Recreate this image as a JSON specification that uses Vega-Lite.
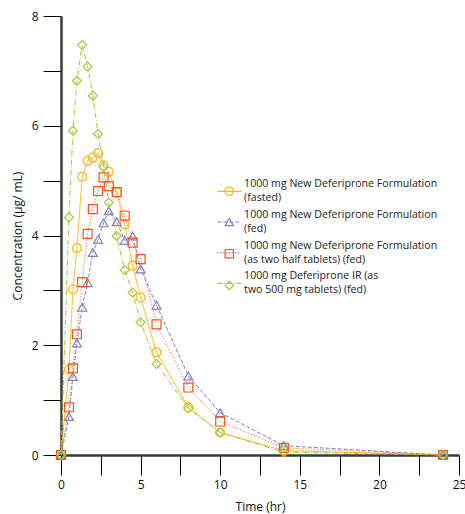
{
  "$schema": "https://vega.github.io/schema/vega-lite/v6.json",
  "autosize": "none",
  "width": 398,
  "height": 439,
  "padding": {"left": 61, "top": 16, "right": 6, "bottom": 59},
  "background": "white",
  "config": {"view": {"stroke": null}, "font": "Open Sans"},
  "data": {
    "values": [
      {"series": "1000 mg New Deferiprone Formulation (fasted)", "time": 0, "conc": 0},
      {"series": "1000 mg New Deferiprone Formulation (fasted)", "time": 0.5, "conc": 1.56},
      {"series": "1000 mg New Deferiprone Formulation (fasted)", "time": 0.75, "conc": 3.02},
      {"series": "1000 mg New Deferiprone Formulation (fasted)", "time": 1, "conc": 3.77},
      {"series": "1000 mg New Deferiprone Formulation (fasted)", "time": 1.33, "conc": 5.07},
      {"series": "1000 mg New Deferiprone Formulation (fasted)", "time": 1.67, "conc": 5.36},
      {"series": "1000 mg New Deferiprone Formulation (fasted)", "time": 2, "conc": 5.42},
      {"series": "1000 mg New Deferiprone Formulation (fasted)", "time": 2.33, "conc": 5.5},
      {"series": "1000 mg New Deferiprone Formulation (fasted)", "time": 2.67, "conc": 5.28},
      {"series": "1000 mg New Deferiprone Formulation (fasted)", "time": 3, "conc": 5.16},
      {"series": "1000 mg New Deferiprone Formulation (fasted)", "time": 3.5, "conc": 4.78},
      {"series": "1000 mg New Deferiprone Formulation (fasted)", "time": 4, "conc": 4.2},
      {"series": "1000 mg New Deferiprone Formulation (fasted)", "time": 4.5, "conc": 3.45},
      {"series": "1000 mg New Deferiprone Formulation (fasted)", "time": 5, "conc": 2.87},
      {"series": "1000 mg New Deferiprone Formulation (fasted)", "time": 6, "conc": 1.87},
      {"series": "1000 mg New Deferiprone Formulation (fasted)", "time": 8, "conc": 0.87},
      {"series": "1000 mg New Deferiprone Formulation (fasted)", "time": 10, "conc": 0.41},
      {"series": "1000 mg New Deferiprone Formulation (fasted)", "time": 14, "conc": 0.08},
      {"series": "1000 mg New Deferiprone Formulation (fasted)", "time": 24, "conc": 0},
      {"series": "1000 mg New Deferiprone Formulation (fed)", "time": 0, "conc": 0},
      {"series": "1000 mg New Deferiprone Formulation (fed)", "time": 0.5, "conc": 0.7},
      {"series": "1000 mg New Deferiprone Formulation (fed)", "time": 0.75, "conc": 1.43},
      {"series": "1000 mg New Deferiprone Formulation (fed)", "time": 1, "conc": 2.04},
      {"series": "1000 mg New Deferiprone Formulation (fed)", "time": 1.33, "conc": 2.69},
      {"series": "1000 mg New Deferiprone Formulation (fed)", "time": 1.67, "conc": 3.14},
      {"series": "1000 mg New Deferiprone Formulation (fed)", "time": 2, "conc": 3.69},
      {"series": "1000 mg New Deferiprone Formulation (fed)", "time": 2.33, "conc": 3.93},
      {"series": "1000 mg New Deferiprone Formulation (fed)", "time": 2.67, "conc": 4.23},
      {"series": "1000 mg New Deferiprone Formulation (fed)", "time": 3, "conc": 4.45},
      {"series": "1000 mg New Deferiprone Formulation (fed)", "time": 3.5, "conc": 4.25},
      {"series": "1000 mg New Deferiprone Formulation (fed)", "time": 4, "conc": 3.91},
      {"series": "1000 mg New Deferiprone Formulation (fed)", "time": 4.5, "conc": 3.99},
      {"series": "1000 mg New Deferiprone Formulation (fed)", "time": 5, "conc": 3.39},
      {"series": "1000 mg New Deferiprone Formulation (fed)", "time": 6, "conc": 2.73},
      {"series": "1000 mg New Deferiprone Formulation (fed)", "time": 8, "conc": 1.44},
      {"series": "1000 mg New Deferiprone Formulation (fed)", "time": 10, "conc": 0.77},
      {"series": "1000 mg New Deferiprone Formulation (fed)", "time": 14, "conc": 0.17},
      {"series": "1000 mg New Deferiprone Formulation (fed)", "time": 24, "conc": 0},
      {"series": "1000 mg New Deferiprone Formulation (as two half tablets) (fed)", "time": 0, "conc": 0},
      {"series": "1000 mg New Deferiprone Formulation (as two half tablets) (fed)", "time": 0.5, "conc": 0.87},
      {"series": "1000 mg New Deferiprone Formulation (as two half tablets) (fed)", "time": 0.75, "conc": 1.58},
      {"series": "1000 mg New Deferiprone Formulation (as two half tablets) (fed)", "time": 1, "conc": 2.2},
      {"series": "1000 mg New Deferiprone Formulation (as two half tablets) (fed)", "time": 1.33, "conc": 3.15},
      {"series": "1000 mg New Deferiprone Formulation (as two half tablets) (fed)", "time": 1.67, "conc": 4.03},
      {"series": "1000 mg New Deferiprone Formulation (as two half tablets) (fed)", "time": 2, "conc": 4.48},
      {"series": "1000 mg New Deferiprone Formulation (as two half tablets) (fed)", "time": 2.33, "conc": 4.81},
      {"series": "1000 mg New Deferiprone Formulation (as two half tablets) (fed)", "time": 2.67, "conc": 5.06},
      {"series": "1000 mg New Deferiprone Formulation (as two half tablets) (fed)", "time": 3, "conc": 4.9},
      {"series": "1000 mg New Deferiprone Formulation (as two half tablets) (fed)", "time": 3.5, "conc": 4.79},
      {"series": "1000 mg New Deferiprone Formulation (as two half tablets) (fed)", "time": 4, "conc": 4.36},
      {"series": "1000 mg New Deferiprone Formulation (as two half tablets) (fed)", "time": 4.5, "conc": 3.87},
      {"series": "1000 mg New Deferiprone Formulation (as two half tablets) (fed)", "time": 5, "conc": 3.57},
      {"series": "1000 mg New Deferiprone Formulation (as two half tablets) (fed)", "time": 6, "conc": 2.38},
      {"series": "1000 mg New Deferiprone Formulation (as two half tablets) (fed)", "time": 8, "conc": 1.23},
      {"series": "1000 mg New Deferiprone Formulation (as two half tablets) (fed)", "time": 10, "conc": 0.61},
      {"series": "1000 mg New Deferiprone Formulation (as two half tablets) (fed)", "time": 14, "conc": 0.13},
      {"series": "1000 mg New Deferiprone Formulation (as two half tablets) (fed)", "time": 24, "conc": 0},
      {"series": "1000 mg Deferiprone IR (as two 500 mg tablets) (fed)", "time": 0, "conc": 0},
      {"series": "1000 mg Deferiprone IR (as two 500 mg tablets) (fed)", "time": 0.5, "conc": 4.33},
      {"series": "1000 mg Deferiprone IR (as two 500 mg tablets) (fed)", "time": 0.75, "conc": 5.91},
      {"series": "1000 mg Deferiprone IR (as two 500 mg tablets) (fed)", "time": 1, "conc": 6.82},
      {"series": "1000 mg Deferiprone IR (as two 500 mg tablets) (fed)", "time": 1.33, "conc": 7.47},
      {"series": "1000 mg Deferiprone IR (as two 500 mg tablets) (fed)", "time": 1.67, "conc": 7.08},
      {"series": "1000 mg Deferiprone IR (as two 500 mg tablets) (fed)", "time": 2, "conc": 6.55},
      {"series": "1000 mg Deferiprone IR (as two 500 mg tablets) (fed)", "time": 2.33, "conc": 5.85},
      {"series": "1000 mg Deferiprone IR (as two 500 mg tablets) (fed)", "time": 2.67, "conc": 5.25},
      {"series": "1000 mg Deferiprone IR (as two 500 mg tablets) (fed)", "time": 3, "conc": 4.6},
      {"series": "1000 mg Deferiprone IR (as two 500 mg tablets) (fed)", "time": 3.5, "conc": 3.99},
      {"series": "1000 mg Deferiprone IR (as two 500 mg tablets) (fed)", "time": 4, "conc": 3.37},
      {"series": "1000 mg Deferiprone IR (as two 500 mg tablets) (fed)", "time": 4.5, "conc": 2.96},
      {"series": "1000 mg Deferiprone IR (as two 500 mg tablets) (fed)", "time": 5, "conc": 2.42},
      {"series": "1000 mg Deferiprone IR (as two 500 mg tablets) (fed)", "time": 6, "conc": 1.66},
      {"series": "1000 mg Deferiprone IR (as two 500 mg tablets) (fed)", "time": 8, "conc": 0.85},
      {"series": "1000 mg Deferiprone IR (as two 500 mg tablets) (fed)", "time": 10, "conc": 0.41},
      {"series": "1000 mg Deferiprone IR (as two 500 mg tablets) (fed)", "time": 14, "conc": 0.05},
      {"series": "1000 mg Deferiprone IR (as two 500 mg tablets) (fed)", "time": 24, "conc": 0}
    ]
  },
  "encoding": {
    "x": {
      "field": "time", "type": "quantitative",
      "scale": {"domain": [0, 25], "nice": false, "zero": false},
      "axis": {
        "title": "Time (hr)", "titleFont": "Open Sans", "titleFontSize": 12, "titleFontWeight": "normal", "titleColor": "#111", "titlePadding": 11,
        "values": [0, 2.5, 5, 7.5, 10, 12.5, 15, 17.5, 20, 22.5, 25],
        "labelExpr": "datum.value % 5 === 0 ? datum.label : ''",
        "labelFont": "Open Sans", "labelFontSize": 12, "labelColor": "#111", "labelPadding": 4, "labelFlush": false, "labelOverlap": false,
        "tickSize": 20, "tickColor": "#000", "tickWidth": 1,
        "domainColor": "#3a3a3a", "domainWidth": 2.5, "grid": false,
        "encode": {"ticks": {"update": {"y2": {"signal": "datum.value % 5 === 0 ? 20 : 9"}}}}
      }
    },
    "y": {
      "field": "conc", "type": "quantitative",
      "scale": {"domain": [0, 8], "nice": false},
      "axis": {
        "title": "Concentration (µg/ mL)", "titleFont": "Open Sans", "titleFontSize": 12, "titleFontWeight": "normal", "titleColor": "#111", "titlePadding": 7,
        "values": [0, 1, 2, 3, 4, 5, 6, 7, 8],
        "labelExpr": "datum.value % 2 === 0 ? datum.label : ''",
        "labelFont": "Open Sans", "labelFontSize": 12, "labelColor": "#111", "labelPadding": 5, "labelFlush": false, "labelOverlap": false,
        "tickSize": 18, "tickColor": "#000", "tickWidth": 1,
        "domainColor": "#3a3a3a", "domainWidth": 2.5, "grid": false,
        "encode": {"ticks": {"update": {"x2": {"signal": "datum.value % 2 === 0 ? -18 : -8"}}}}
      }
    }
  },
  "layer": [
    {
      "mark": {"type": "line", "strokeWidth": 1},
      "encoding": {
        "order": {"field": "time", "type": "quantitative"},
        "color": {
          "field": "series", "type": "nominal",
          "scale": {
            "domain": ["1000 mg New Deferiprone Formulation (fasted)", "1000 mg New Deferiprone Formulation (fed)", "1000 mg New Deferiprone Formulation (as two half tablets) (fed)", "1000 mg Deferiprone IR (as two 500 mg tablets) (fed)"],
            "range": ["#FBB715", "#8A7CC4", "#F05323", "#A5C83C"]
          },
          "legend": {
            "title": null, "orient": "none", "legendX": 163, "legendY": 170, "padding": 0,
            "symbolType": "M-2.87,0H2.87", "symbolSize": 70, "symbolStrokeWidth": 1.2,
            "labelExpr": "datum.label == '1000 mg Deferiprone IR (as two 500 mg tablets) (fed)' ? ['1000 mg Deferiprone IR (as', 'two 500 mg tablets) (fed)'] : [slice(datum.label, 0, 35), slice(datum.label, 36)]",
            "labelFont": "Open Sans", "labelFontSize": 10.6, "labelColor": "#222", "labelLimit": 300, "labelOffset": 9.5, "rowPadding": 5.7,
            "encode": {"labels": {"update": {"lineHeight": {"value": 14}, "dy": {"value": -7}}}}
          }
        },
        "strokeDash": {
          "field": "series", "type": "nominal",
          "scale": {
            "domain": ["1000 mg New Deferiprone Formulation (fasted)", "1000 mg New Deferiprone Formulation (fed)", "1000 mg New Deferiprone Formulation (as two half tablets) (fed)", "1000 mg Deferiprone IR (as two 500 mg tablets) (fed)"],
            "range": [[1, 0], [4, 2], [1, 2], [5, 2, 1, 2]]
          },
          "legend": {
            "title": null, "orient": "none", "legendX": 163, "legendY": 170, "padding": 0,
            "symbolType": "M-2.87,0H2.87", "symbolSize": 70, "symbolStrokeWidth": 1.2,
            "labelExpr": "datum.label == '1000 mg Deferiprone IR (as two 500 mg tablets) (fed)' ? ['1000 mg Deferiprone IR (as', 'two 500 mg tablets) (fed)'] : [slice(datum.label, 0, 35), slice(datum.label, 36)]",
            "labelFont": "Open Sans", "labelFontSize": 10.6, "labelColor": "#222", "labelLimit": 300, "labelOffset": 9.5, "rowPadding": 5.7,
            "encode": {"labels": {"update": {"lineHeight": {"value": 14}, "dy": {"value": -7}}}}
          }
        }
      }
    },
    {
      "mark": {"type": "point", "filled": false, "strokeWidth": 1.2, "size": 80, "opacity": 1},
      "encoding": {
        "color": {
          "field": "series", "type": "nominal",
          "legend": {
            "title": null, "orient": "none", "legendX": 163, "legendY": 170, "padding": 0,
            "symbolSize": 70, "symbolStrokeWidth": 1.2,
            "labelExpr": "[' ', ' ']",
            "labelFont": "Open Sans", "labelFontSize": 10.6, "labelColor": "transparent", "labelLimit": 300, "labelOffset": 9.5, "rowPadding": 5.7,
            "encode": {"labels": {"update": {"lineHeight": {"value": 14}, "dy": {"value": -7}}}, "symbols": {"update": {"fill": {"value": "white"}}}}
          }
        },
        "shape": {
          "field": "series", "type": "nominal",
          "scale": {
            "domain": ["1000 mg New Deferiprone Formulation (fasted)", "1000 mg New Deferiprone Formulation (fed)", "1000 mg New Deferiprone Formulation (as two half tablets) (fed)", "1000 mg Deferiprone IR (as two 500 mg tablets) (fed)"],
            "range": ["circle", "triangle-up", "square", "diamond"]
          },
          "legend": {
            "title": null, "orient": "none", "legendX": 163, "legendY": 170, "padding": 0,
            "symbolSize": 70, "symbolStrokeWidth": 1.2,
            "labelExpr": "[' ', ' ']",
            "labelFont": "Open Sans", "labelFontSize": 10.6, "labelColor": "transparent", "labelLimit": 300, "labelOffset": 9.5, "rowPadding": 5.7,
            "encode": {"labels": {"update": {"lineHeight": {"value": 14}, "dy": {"value": -7}}}, "symbols": {"update": {"fill": {"value": "white"}}}}
          }
        }
      }
    }
  ],
  "resolve": {"legend": {"color": "independent", "shape": "independent", "strokeDash": "independent"}}
}
